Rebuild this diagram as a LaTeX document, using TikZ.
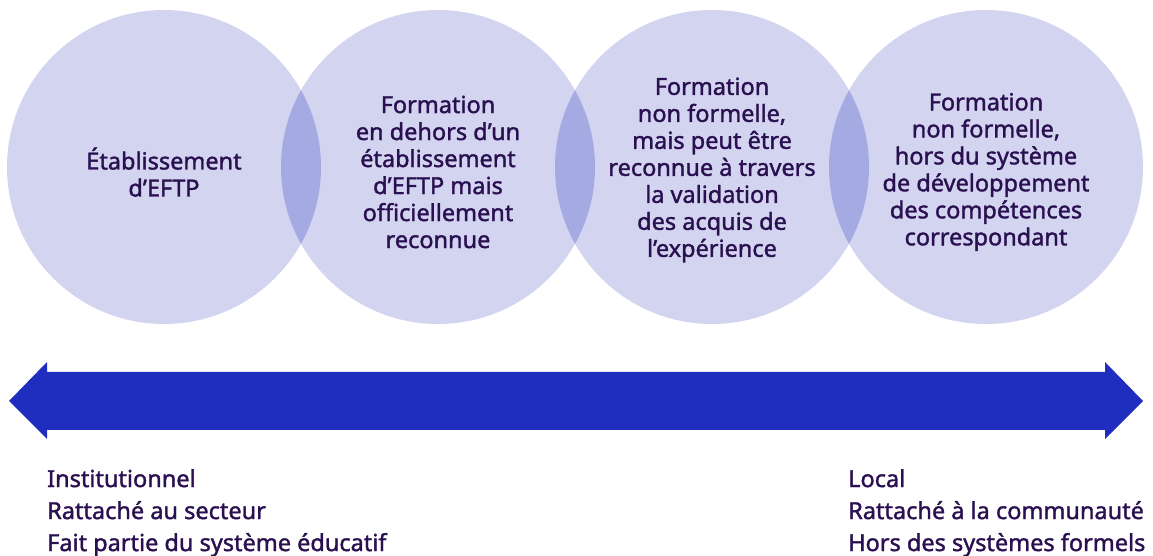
\documentclass[tikz,border=0pt]{standalone}
\usepackage{fontspec}
\setmainfont[FakeBold=1.5]{Noto Sans}
\usepackage{tikz}
\usetikzlibrary{positioning}
\definecolor{BubbleLilac}{HTML}{D2D4F0}
\definecolor{LensLilac}{HTML}{A5AAE3}
\definecolor{SpanBlue}{HTML}{1F2EBE}
\definecolor{InkPurple}{HTML}{2A1050}

\begin{document}
\begin{tikzpicture}[
      x=1pt, y=1pt,
      every node/.style={align=center, text=InkPurple},
      bubble/.style={circle, fill=BubbleLilac, minimum size=314pt, inner sep=0pt, outer sep=0pt},
      bubbletxt/.style={inner sep=0pt, font=\fontsize{23.5}{27}\selectfont\bfseries},
      lens/.style={fill=LensLilac},
      note/.style={anchor=north west, align=left, inner sep=0pt, font=\fontsize{23.5}{32}\selectfont\bfseries},
      span/.style={fill=SpanBlue}
    ]
      \useasboundingbox (0,0) rectangle (1153,556);

      \node[bubble] (etab) at (164,389) {};
      \node[bubble, right=-40pt of etab] (hors) {};
      \node[bubble, right=-40pt of hors] (vae) {};
      \node[bubble, right=-40pt of vae] (nonform) {};

      % Overlaps
      \foreach \a/\b in {etab/hors, hors/vae, vae/nonform} {
        \begin{scope}
          \clip (\a.center) circle (157pt);
          \fill[lens] (\b.center) circle (157pt);
        \end{scope}
      }

      \node[bubbletxt] (etabtxt) at ([yshift=-5pt]etab.center) {Établissement\\d’EFTP};
      \node[bubbletxt] (horstxt) at ([yshift=-5pt]hors.center) {Formation\\en dehors d’un\\établissement\\d’EFTP mais\\officiellement\\reconnue};
      \node[bubbletxt] (vaetxt) at ([yshift=-3pt]vae.center) {Formation\\non formelle,\\mais peut être\\reconnue à travers\\la validation\\des acquis de\\l’expérience};
      \node[bubbletxt] (nonformtxt) at ([yshift=-5pt]nonform.center) {Formation\\non formelle,\\hors du système\\de développement\\des compétences\\correspondant};

      % Double arrow
      \fill[span] (9,155) -- (47,194) -- (47,184) -- (1105,184) -- (1105,194) -- (1143,155)
        -- (1105,117) -- (1105,126) -- (47,126) -- (47,117) -- cycle;

      % Labels
      \node[note] (inst) at (47,87) {Institutionnel\\Rattaché au secteur\\Fait partie du système éducatif};
      \node[note] (local) at (848,87) {Local\\Rattaché à la communauté\\Hors des systèmes formels};

    \end{tikzpicture}
\end{document}
